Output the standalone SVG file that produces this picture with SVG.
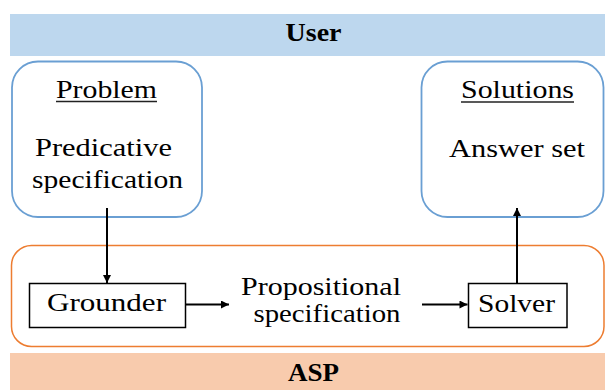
<svg xmlns="http://www.w3.org/2000/svg" width="605" height="390" viewBox="0 0 605 390">
<defs>
<marker id="ah" viewBox="0 0 10 10" refX="10" refY="5" markerWidth="10" markerHeight="8" markerUnits="userSpaceOnUse" orient="auto">
<path d="M0,0 L10,5 L0,10 Z" fill="#000"/>
</marker>
<style>
.t{font-family:'Liberation Serif','DejaVu Serif','Times New Roman',serif;font-size:26px;fill:#000;text-anchor:middle}
.b{font-weight:bold}
.blue{fill:#fff;stroke:#6A9FD3;stroke-width:1.8}
.orange{fill:#fff;stroke:#ED7D31;stroke-width:1.5}
.box{fill:#fff;stroke:#000;stroke-width:1.5}
.conn{stroke:#000;stroke-width:2;fill:none;marker-end:url(#ah)}
.ul{stroke:#222;stroke-width:1.3}
</style>
</defs>
<rect width="605" height="390" fill="#fff"/>
<g id="user">
<rect x="10" y="14" width="595" height="42" fill="#BDD7EE"/>
<text class="t b" x="313.5" y="40.5" textLength="56" lengthAdjust="spacingAndGlyphs">User</text>
</g>
<g id="asp">
<rect x="10" y="353" width="595" height="37" fill="#F8CBAD"/>
<text class="t b" x="313.5" y="381" textLength="51" lengthAdjust="spacingAndGlyphs">ASP</text>
</g>
<g id="asp-container">
<rect class="orange" x="11.5" y="245.5" width="592.5" height="101" rx="20" ry="20"/>
</g>
<g id="problem">
<rect class="blue" x="12" y="61.5" width="190" height="155.5" rx="26" ry="26"/>
<text class="t" x="106.5" y="98" textLength="101" lengthAdjust="spacingAndGlyphs">Problem</text>
<line class="ul" x1="56" y1="101.5" x2="157" y2="101.5"/>
<text class="t" x="103.5" y="155.5" textLength="137" lengthAdjust="spacingAndGlyphs">Predicative</text>
<text class="t" x="107.5" y="188" textLength="151" lengthAdjust="spacingAndGlyphs">specification</text>
</g>
<g id="solutions">
<rect class="blue" x="421.5" y="61.5" width="182" height="155.5" rx="26" ry="26"/>
<text class="t" x="517.5" y="97.5" textLength="113" lengthAdjust="spacingAndGlyphs">Solutions</text>
<line class="ul" x1="461" y1="102" x2="574" y2="102"/>
<text class="t" x="517" y="157" textLength="136" lengthAdjust="spacingAndGlyphs">Answer set</text>
</g>
<g id="grounder">
<rect class="box" x="29.5" y="283.5" width="156" height="44"/>
<text class="t" x="106.5" y="311" textLength="119" lengthAdjust="spacingAndGlyphs">Grounder</text>
</g>
<g id="propositional">
<text class="t" x="321" y="295" textLength="160" lengthAdjust="spacingAndGlyphs">Propositional</text>
<text class="t" x="327" y="321.5" textLength="147" lengthAdjust="spacingAndGlyphs">specification</text>
</g>
<g id="solver">
<rect class="box" x="468.5" y="283.5" width="98.5" height="44"/>
<text class="t" x="516.5" y="311.5" textLength="77" lengthAdjust="spacingAndGlyphs">Solver</text>
</g>
<g id="connectors">
<line class="conn" x1="107" y1="208" x2="107" y2="283"/>
<line class="conn" x1="186" y1="304.5" x2="229" y2="304.5"/>
<line class="conn" x1="422" y1="304.5" x2="467.5" y2="304.5"/>
<line class="conn" x1="517" y1="283" x2="517" y2="208"/>
</g>
</svg>
